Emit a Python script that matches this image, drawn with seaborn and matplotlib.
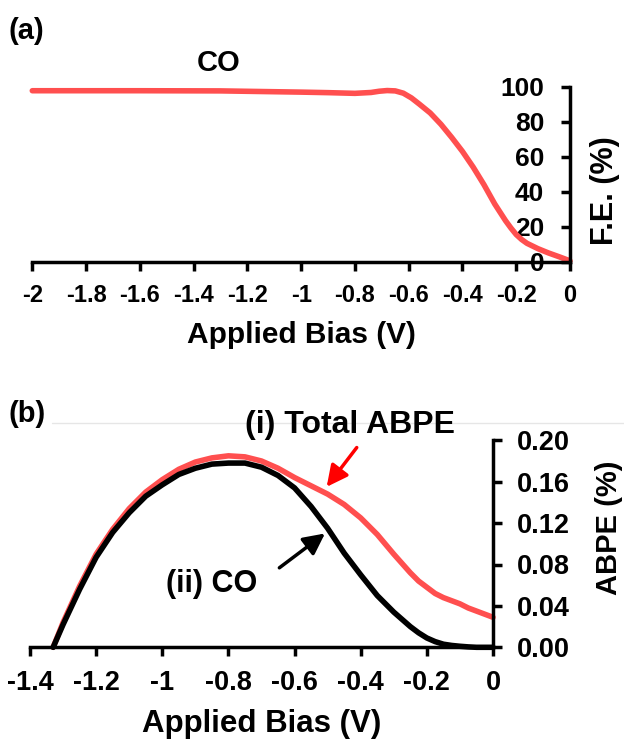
import matplotlib
matplotlib.use("Agg")
import matplotlib.pyplot as plt
import seaborn as sns
import numpy as np
from matplotlib.lines import Line2D

# ---------------- data ----------------
# (a) Faradaic efficiency of CO vs applied bias
fe_bias = [-2.0, -1.6, -1.3, -1.0, -0.9, -0.8, -0.74, -0.71, -0.68, -0.65, -0.62, -0.59,
           -0.56, -0.52, -0.48, -0.44, -0.40, -0.36, -0.32, -0.28, -0.24, -0.22, -0.20,
           -0.18, -0.16, -0.12, -0.08, -0.04, 0.0]
fe_co = [97.7, 97.7, 97.6, 96.9, 96.6, 96.2, 96.7, 97.4, 97.8, 97.6, 96.3, 93.6,
         90.0, 85.0, 78.5, 71.0, 63.0, 54.0, 44.0, 33.0, 23.5, 19.3, 15.5,
         12.7, 10.5, 7.5, 5.0, 2.8, 0.5]

# (b) ABPE vs applied bias
abpe_bias = [-1.33, -1.315, -1.30, -1.25, -1.20, -1.15, -1.10, -1.05, -1.00, -0.95, -0.90,
             -0.85, -0.80, -0.75, -0.70, -0.65, -0.60, -0.55, -0.50, -0.45, -0.40, -0.35,
             -0.30, -0.25, -0.225, -0.20, -0.175, -0.15, -0.125, -0.10, -0.075, -0.05,
             -0.025, 0.0]
abpe_total = [0.0, 0.012, 0.024, 0.059, 0.090, 0.114, 0.134, 0.150, 0.162, 0.172, 0.179,
              0.183, 0.185, 0.184, 0.180, 0.173, 0.164, 0.156, 0.148, 0.138, 0.125, 0.109,
              0.090, 0.072, 0.064, 0.058, 0.052, 0.048, 0.045, 0.042, 0.038, 0.035,
              0.032, 0.029]
abpe_co = [0.0, 0.011, 0.022, 0.056, 0.087, 0.111, 0.130, 0.146, 0.157, 0.167, 0.173,
           0.177, 0.178, 0.178, 0.174, 0.166, 0.154, 0.136, 0.115, 0.091, 0.070, 0.050,
           0.034, 0.020, 0.014, 0.009, 0.0055, 0.003, 0.0018, 0.001, 0.0004, 0.0,
           0.0, 0.0]

top_xticks = [-2, -1.8, -1.6, -1.4, -1.2, -1, -0.8, -0.6, -0.4, -0.2, 0]
top_xticklabels = ["-2", "-1.8", "-1.6", "-1.4", "-1.2", "-1", "-0.8", "-0.6", "-0.4", "-0.2", "0"]
top_yticks = [0, 20, 40, 60, 80, 100]
bot_xticks = [-1.4, -1.2, -1, -0.8, -0.6, -0.4, -0.2, 0]
bot_xticklabels = ["-1.4", "-1.2", "-1", "-0.8", "-0.6", "-0.4", "-0.2", "0"]
bot_yticks = [0.0, 0.04, 0.08, 0.12, 0.16, 0.20]
bot_yticklabels = ["0.00", "0.04", "0.08", "0.12", "0.16", "0.20"]

RED = "#FF4F4F"

# ---------------- style ----------------
sns.set_theme(style="white")
plt.rcParams["font.family"] = ["Liberation Sans", "DejaVu Sans"]
plt.rcParams["font.weight"] = "bold"
plt.rcParams["axes.labelweight"] = "bold"
plt.rcParams["text.color"] = "black"
plt.rcParams["axes.labelcolor"] = "black"
plt.rcParams["xtick.color"] = "black"
plt.rcParams["ytick.color"] = "black"
plt.rcParams["lines.solid_joinstyle"] = "round"
plt.rcParams["lines.solid_capstyle"] = "round"

W, H = 624, 742
fig = plt.figure(figsize=(W / 100, H / 100), dpi=100)

def fr(left, right, top, bottom):
    return [left / W, 1 - bottom / H, (right - left) / W, (bottom - top) / H]

SPW = 2.5
TL = 6.5

# ---------------- panel (a) ----------------
ax1 = fig.add_axes(fr(32.3, 570.0, 86.7, 261.7))
sns.lineplot(x=fe_bias, y=fe_co, ax=ax1, color=RED, linewidth=4, clip_on=False)
ax1.set_xlim(-2, 0)
ax1.set_ylim(0, 100)
for s in ["top", "right"]:
    ax1.spines[s].set_visible(False)
ax1.spines["left"].set_position(("axes", 1.0))
for s in ["left", "bottom"]:
    ax1.spines[s].set_linewidth(SPW)
    ax1.spines[s].set_color("black")
ax1.set_xticks(top_xticks)
ax1.set_xticklabels(top_xticklabels)
ax1.set_yticks(top_yticks)
ax1.tick_params(axis="x", direction="out", length=TL, width=SPW, pad=9.5,
                labelsize=17, bottom=True, colors="black")
ax1.tick_params(axis="y", direction="out", length=TL, width=SPW, pad=12,
                labelsize=19, left=True, right=False, colors="black")
ax1.set_xlabel("Applied Bias (V)", fontsize=21.5, fontweight="bold", labelpad=10,
               color="black")
ax1.set_ylabel("F.E. (%)", fontsize=22, fontweight="bold", color="black")
ax1.yaxis.label.set_rotation_mode("default")
ax1.yaxis.label.set_va("center")
ax1.yaxis.label.set_ha("center")
ax1.yaxis.set_label_coords(1.065, 0.405)
ax1.text(-1.306, 113.8, "CO", fontsize=21, fontweight="bold", ha="center", va="center",
         clip_on=False, color="black")
ax1.set_facecolor("none")

# ---------------- panel (b) ----------------
ax2 = fig.add_axes(fr(30.0, 493.0, 440.3, 647.3))
sns.lineplot(x=abpe_bias, y=abpe_total, ax=ax2, color=RED, linewidth=4, clip_on=False)
sns.lineplot(x=abpe_bias, y=abpe_co, ax=ax2, color="black", linewidth=4, clip_on=False)
ax2.set_xlim(-1.4, 0)
ax2.set_ylim(0, 0.20)
for s in ["top", "left"]:
    ax2.spines[s].set_visible(False)
for s in ["right", "bottom"]:
    ax2.spines[s].set_linewidth(SPW)
    ax2.spines[s].set_color("black")
ax2.yaxis.tick_right()
ax2.set_xticks(bot_xticks)
ax2.set_xticklabels(bot_xticklabels)
ax2.set_yticks(bot_yticks)
ax2.set_yticklabels(bot_yticklabels)
ax2.tick_params(axis="x", direction="out", length=TL, width=SPW, pad=9.5,
                labelsize=19.5, bottom=True, colors="black")
ax2.tick_params(axis="y", direction="out", length=TL, width=SPW, pad=11,
                labelsize=19.5, right=True, left=False, colors="black")
ax2.set_xlabel("Applied Bias (V)", fontsize=22.5, fontweight="bold", labelpad=10,
               color="black")
ax2.set_ylabel("ABPE (%)", fontsize=21, fontweight="bold", color="black")
ax2.yaxis.label.set_rotation_mode("default")
ax2.yaxis.label.set_va("center")
ax2.yaxis.label.set_ha("center")
ax2.yaxis.set_label_coords(1.2505, 0.579)

ax2.text(-0.431, 0.2145, "(i) Total ABPE", fontsize=23, fontweight="bold",
         ha="center", va="center", clip_on=False, zorder=5, color="black")
ax2.text(-0.850, 0.0616, "(ii) CO", fontsize=22, fontweight="bold",
         ha="center", va="center", color="black")
ax2.annotate("", xy=(-0.503, 0.155), xytext=(-0.412, 0.193),
             arrowprops=dict(arrowstyle="-|>", color="#FF0000", lw=2.5,
                             mutation_scale=32, shrinkA=0, shrinkB=0),
             annotation_clip=False)
ax2.annotate("", xy=(-0.508, 0.110), xytext=(-0.646, 0.0768),
             arrowprops=dict(arrowstyle="-|>", color="black", lw=2.5,
                             mutation_scale=32, shrinkA=0, shrinkB=0))
ax2.set_facecolor("none")

# panel letters and faint separator line
fig.text(8 / W, 1 - 30.7 / H, "(a)", fontsize=21, fontweight="bold", ha="left",
         va="center", color="black")
fig.text(8 / W, 1 - 413.5 / H, "(b)", fontsize=21, fontweight="bold", ha="left",
         va="center", color="black")
fig.add_artist(Line2D([52 / W, 1.0], [1 - 423.3 / H, 1 - 423.3 / H],
                      color="#E6E6E6", lw=1, zorder=0))

fig.savefig("out.png", dpi=100)
